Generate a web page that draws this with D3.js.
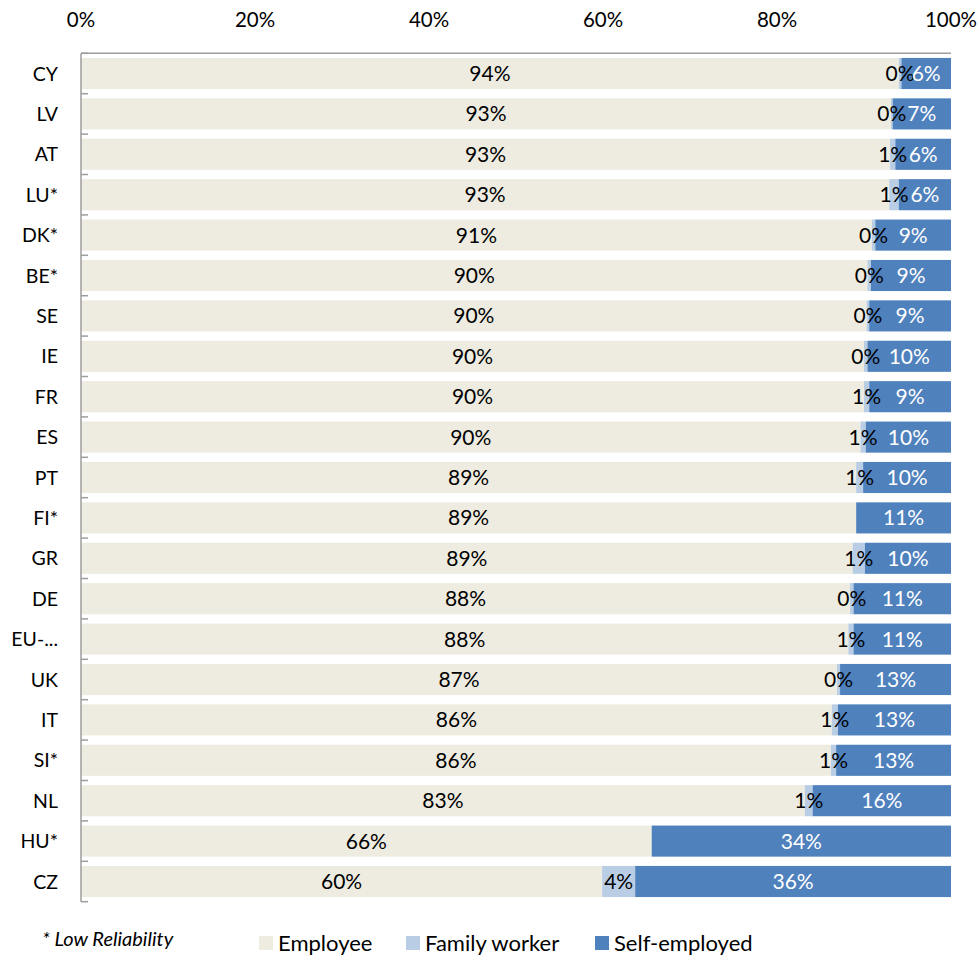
<!DOCTYPE html>
<html>
<head>
<meta charset="utf-8">
<script src="https://cdn.jsdelivr.net/npm/d3@7"></script>
<style>
  body { margin: 0; background: #fff; }
  svg { font-family: Lato, "Open Sans", sans-serif; }
</style>
</head>
<body>
<svg width="979" height="956"></svg>
<script>
// categories, top to bottom
const countries = ["CY", "LV", "AT", "LU*", "DK*", "BE*", "SE", "IE", "FR", "ES", "PT",
  "FI*", "GR", "DE", "EU-...", "UK", "IT", "SI*", "NL", "HU*", "CZ"];
// shares in percent
const employee = [94.0, 93.1, 93.0, 92.9, 90.9, 90.4, 90.3, 90.0, 90.0, 89.6, 89.1,
  89.1, 88.7, 88.4, 88.2, 86.9, 86.3, 86.2, 83.2, 65.6, 59.9];
const familyWorker = [0.3, 0.2, 0.6, 1.1, 0.4, 0.4, 0.3, 0.4, 0.6, 0.6, 0.8,
  0, 1.4, 0.4, 0.6, 0.35, 0.7, 0.6, 0.9, 0, 3.8];
const selfEmployed = [5.7, 6.7, 6.4, 6.0, 8.7, 9.2, 9.4, 9.6, 9.4, 9.8, 10.1,
  10.9, 9.9, 11.2, 11.2, 12.75, 13.0, 13.2, 15.9, 34.4, 36.3];
const xTicks = [0, 20, 40, 60, 80, 100];

const seriesNames = ["Employee", "Family worker", "Self-employed"];
const colors = ["#EEECE1", "#B9CDE5", "#4F81BD"];
const labelColors = ["#000", "#000", "#fff"];

const rows = countries.map((c, i) => ({
  country: c, "Employee": employee[i], "Family worker": familyWorker[i], "Self-employed": selfEmployed[i]
}));

const svg = d3.select("svg");
const margin = { left: 81, right: 28, top: 53.3, bottom: 54 };
const width = 979, height = 956;

const x = d3.scaleLinear().domain([0, 100]).range([margin.left, width - margin.right]);
const y = d3.scaleBand().domain(countries)
  .range([margin.top, margin.top + 40.4 * countries.length])
  .paddingInner(0.23).paddingOuter(0.115);

const stacked = d3.stack().keys(seriesNames)(rows);

// bars
const layer = svg.append("g").selectAll("g")
  .data(stacked)
  .join("g")
  .attr("fill", (d, i) => colors[i]);

layer.selectAll("rect")
  .data(d => d)
  .join("rect")
  .attr("x", d => x(d[0]))
  .attr("y", d => y(d.data.country))
  .attr("width", d => x(d[1]) - x(d[0]))
  .attr("height", y.bandwidth());

// value labels
stacked.forEach((s, i) => {
  svg.append("g")
    .selectAll("text")
    .data(s.filter(d => d[1] - d[0] > 0))
    .join("text")
    .attr("x", d => (x(d[0]) + x(d[1])) / 2)
    .attr("y", d => y(d.data.country) + y.bandwidth() / 2)
    .attr("dy", "0.36em")
    .attr("text-anchor", "middle")
    .attr("fill", labelColors[i])
    .style("font-size", "21px")
    .text(d => Math.round(d[1] - d[0]) + "%");
});

// top axis
const axisColor = "#9d9d9d";
svg.append("line")
  .attr("x1", x(0)).attr("x2", x(100))
  .attr("y1", margin.top).attr("y2", margin.top)
  .attr("stroke", axisColor).attr("stroke-width", 1.5);

svg.append("g").selectAll("text")
  .data(xTicks)
  .join("text")
  .attr("x", d => x(d))
  .attr("y", 20)
  .attr("dy", "0.36em")
  .attr("text-anchor", "middle")
  .style("font-size", "20.5px")
  .text(d => d + "%");

// left axis with ticks between categories
const yBottom = margin.top + 40.4 * countries.length;
svg.append("line")
  .attr("x1", x(0)).attr("x2", x(0))
  .attr("y1", margin.top).attr("y2", yBottom)
  .attr("stroke", axisColor).attr("stroke-width", 1.5);

svg.append("g").selectAll("line")
  .data(d3.range(countries.length + 1))
  .join("line")
  .attr("x1", x(0)).attr("x2", x(0) + 7)
  .attr("y1", i => margin.top + 40.4 * i)
  .attr("y2", i => margin.top + 40.4 * i)
  .attr("stroke", axisColor).attr("stroke-width", 1.5);

svg.append("g").selectAll("text")
  .data(countries)
  .join("text")
  .attr("x", 58)
  .attr("y", d => y(d) + y.bandwidth() / 2)
  .attr("dy", "0.36em")
  .attr("text-anchor", "end")
  .style("font-size", "19.5px")
  .text(d => d);

// footnote
svg.append("text")
  .attr("x", 42).attr("y", 939)
  .attr("dy", "0.36em")
  .style("font-size", "20px")
  .style("font-style", "italic")
  .text("* Low Reliability");

// legend
const legendX = [259, 406, 595];
const legend = svg.append("g").selectAll("g")
  .data(seriesNames)
  .join("g")
  .attr("transform", (d, i) => `translate(${legendX[i]},943)`);

legend.append("rect")
  .attr("x", 0).attr("y", -7)
  .attr("width", 14).attr("height", 14)
  .attr("fill", (d, i) => colors[i]);

legend.append("text")
  .attr("x", 19)
  .attr("dy", "0.36em")
  .style("font-size", "22px")
  .text(d => d);
</script>
</body>
</html>
